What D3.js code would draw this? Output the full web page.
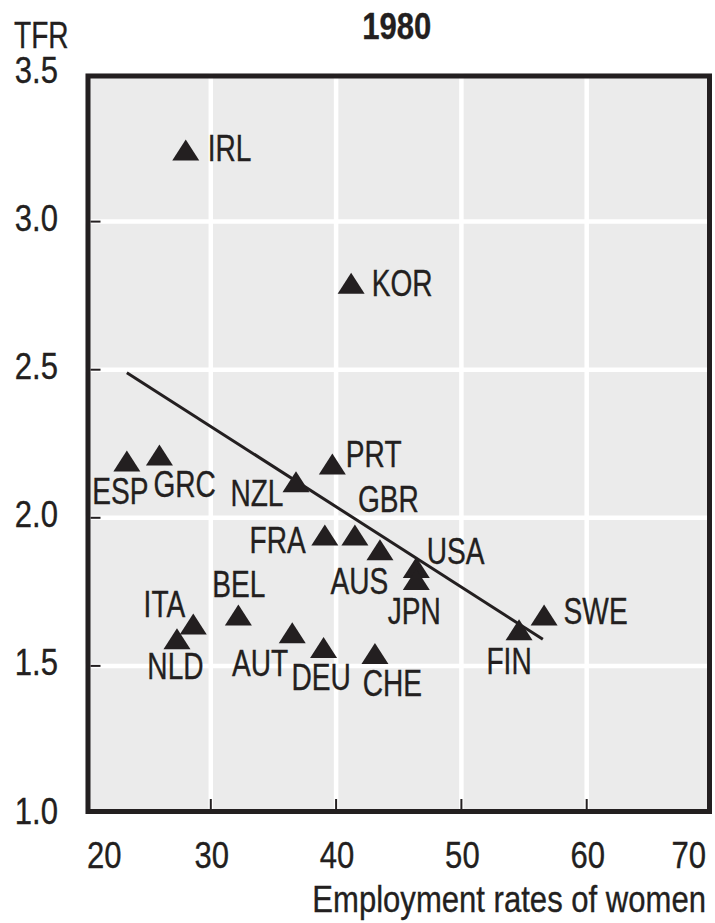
<!DOCTYPE html>
<html>
<head>
<meta charset="utf-8">
<script src="https://cdn.jsdelivr.net/npm/d3@7"></script>
<style>
  html, body { margin: 0; padding: 0; background: #ffffff; }
  svg { display: block; }
  text { font-family: "Liberation Sans", Arial, Helvetica, sans-serif; fill: #231f20; stroke: #231f20; stroke-width: 0.35; }
</style>
</head>
<body>
<script>
// ---- Data ----
const countries = ["IRL","KOR","ESP","GRC","NZL","PRT","FRA","GBR","AUS","USA","JPN","ITA","NLD","BEL","AUT","DEU","CHE","FIN","SWE"];
const employment = [28.0, 41.2, 23.3, 25.9, 36.8, 39.7, 39.1, 41.5, 43.5, 46.4, 46.4, 28.6, 27.3, 32.2, 36.5, 39.0, 43.1, 54.6, 56.6];
const tfr        = [3.23, 2.78, 2.18, 2.20, 2.11, 2.17, 1.93, 1.93, 1.88, 1.82, 1.78, 1.63, 1.58, 1.66, 1.60, 1.55, 1.53, 1.61, 1.66];
const trendX = [23.3, 56.5];
const trendY = [2.49, 1.59];
const xTicks = [20, 30, 40, 50, 60, 70];
const yTicks = [1.0, 1.5, 2.0, 2.5, 3.0, 3.5];
const title = "1980";
const yTitle = "TFR";
const xTitle = "Employment rates of women";

// ---- Label layout (anchor, dx, dy) ----
const labelLayout = {
  IRL: ["start", 22, 8], KOR: ["start", 20.5, 9], ESP: ["middle", -6.5, 40],
  GRC: ["start", -6, 38], NZL: ["end", -12.5, 21], PRT: ["start", 13.5, 0],
  GBR: ["start", 3, -27], FRA: ["end", -19, 14], AUS: ["middle", -20.5, 41],
  USA: ["start", 10.5, -7], JPN: ["middle", -2, 41], ITA: ["end", -8, -10],
  NLD: ["middle", -1.5, 37], BEL: ["middle", 0.5, -22], AUT: ["end", -4, 40],
  DEU: ["middle", -2.5, 39], CHE: ["middle", 17.5, 39], FIN: ["middle", -10, 41],
  SWE: ["start", 19.5, 5]
};

const W = 715, H = 923;
const ink = "#231f20";
const FS = 37;          // font size
const SX_CAPS = 0.76;   // condensed look for capital labels
const SX_NUM = 0.84;    // condensed look for numbers / axis title
const svg = d3.select("body").append("svg").attr("width", W).attr("height", H);

const x = d3.scaleLinear().domain([20, 70]).range([85.5, 712]);
const y = d3.scaleLinear().domain([1.0, 3.5]).range([814, 73.5]);

function condensed(sel, fx, fy, sx) {
  return sel.attr("x", 0).attr("y", 0)
    .attr("transform", (d, i) => `translate(${typeof fx === "function" ? fx(d, i) : fx},${typeof fy === "function" ? fy(d, i) : fy}) scale(${sx},1)`)
    .attr("font-size", FS);
}

// plot background
svg.append("rect")
  .attr("x", x(20)).attr("y", y(3.5))
  .attr("width", x(70) - x(20)).attr("height", y(1.0) - y(3.5))
  .attr("fill", "#ebebeb");

// gridlines
const g = svg.append("g");
g.selectAll(".vg").data(xTicks.slice(1, -1)).join("line")
  .attr("x1", d => x(d)).attr("x2", d => x(d))
  .attr("y1", y(3.5)).attr("y2", y(1.0))
  .attr("stroke", "#ffffff").attr("stroke-width", 4.5);
g.selectAll(".hg").data(yTicks.slice(1, -1)).join("line")
  .attr("y1", d => y(d)).attr("y2", d => y(d))
  .attr("x1", x(20)).attr("x2", x(70))
  .attr("stroke", "#ffffff").attr("stroke-width", 4.5);

// inner ticks
const bw = 5;
g.selectAll(".xt").data(xTicks.slice(1, -1)).join("line")
  .attr("x1", d => x(d)).attr("x2", d => x(d))
  .attr("y1", y(1.0) - bw).attr("y2", y(1.0) - bw - 10)
  .attr("stroke", ink).attr("stroke-width", 2);
g.selectAll(".yt").data(yTicks.slice(1, -1)).join("line")
  .attr("y1", d => y(d)).attr("y2", d => y(d))
  .attr("x1", x(20) + bw).attr("x2", x(20) + bw + 10)
  .attr("stroke", ink).attr("stroke-width", 2);

// trend line
svg.append("line")
  .attr("x1", x(trendX[0])).attr("y1", y(trendY[0]))
  .attr("x2", x(trendX[1])).attr("y2", y(trendY[1]))
  .attr("stroke", ink).attr("stroke-width", 3);

// triangle symbol: width 27, height 21, centroid at origin
const tri = {
  draw(ctx, size) {
    const w = 27, h = 21;
    ctx.moveTo(0, -2 * h / 3);
    ctx.lineTo(w / 2, h / 3);
    ctx.lineTo(-w / 2, h / 3);
    ctx.closePath();
  }
};
const pts = countries.map((c, i) => ({ c, ex: employment[i], t: tfr[i] }));
svg.append("g").selectAll("path").data(pts).join("path")
  .attr("d", d3.symbol().type(tri).size(1))
  .attr("transform", d => `translate(${x(d.ex)},${y(d.t)})`)
  .attr("fill", ink);

// labels
condensed(
  svg.append("g").selectAll("text").data(pts).join("text"),
  d => x(d.ex) + labelLayout[d.c][1],
  d => y(d.t) + labelLayout[d.c][2],
  SX_CAPS)
  .attr("text-anchor", d => labelLayout[d.c][0])
  .text(d => d.c);

// frame
svg.append("rect")
  .attr("x", x(20) + bw / 2).attr("y", y(3.5) + bw / 2)
  .attr("width", x(70) - x(20) - bw).attr("height", y(1.0) - y(3.5) - bw)
  .attr("fill", "none").attr("stroke", ink).attr("stroke-width", bw);

// axis labels
const nX = xTicks.length;
condensed(
  svg.append("g").selectAll("text").data(xTicks).join("text"),
  (d, i) => i === 0 ? x(d) + 1.5 : (i === nX - 1 ? x(d) - 6 : x(d) + 1),
  868, SX_NUM)
  .attr("text-anchor", (d, i) => i === 0 ? "start" : (i === nX - 1 ? "end" : "middle"))
  .text(d => d3.format("d")(d));

condensed(
  svg.append("g").selectAll("text").data(yTicks).join("text"),
  58, d => y(d) + 9.5, SX_NUM)
  .attr("text-anchor", "end")
  .text(d => d3.format(".1f")(d));

condensed(svg.append("text"), 14, 48, SX_CAPS).text(yTitle);
condensed(svg.append("text"), (x(20) + x(70)) / 2 - 2, 39, SX_NUM)
  .attr("text-anchor", "middle").attr("font-weight", "bold").text(title);
condensed(svg.append("text"), 706, 912, SX_NUM)
  .attr("text-anchor", "end").text(xTitle);
</script>
</body>
</html>
